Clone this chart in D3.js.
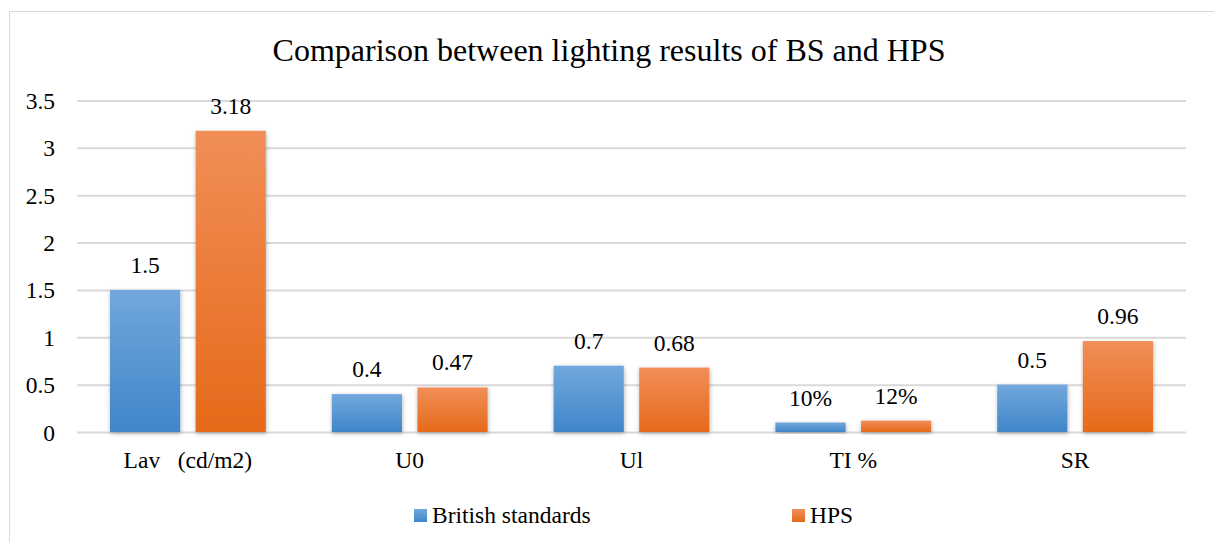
<!DOCTYPE html>
<html><head><meta charset="utf-8">
<script src="https://cdn.jsdelivr.net/npm/d3@7"></script>
<style>
body{margin:0;background:#fff}
svg{display:block;font-family:"Liberation Serif",serif}
svg text{font-family:"Liberation Serif",serif !important;fill:#000}
</style>
</head><body>
<svg id="c" width="1214" height="542"></svg>
<script>
const categories = ["Lav\u00a0\u00a0\u00a0(cd/m2)", "U0", "Ul", "TI %", "SR"];
const seriesNames = ["British standards", "HPS"];
const britishValues = [1.5, 0.4, 0.7, 0.1, 0.5];
const hpsValues = [3.18, 0.47, 0.68, 0.12, 0.96];
const britishLabels = ["1.5", "0.4", "0.7", "10%", "0.5"];
const hpsLabels = ["3.18", "0.47", "0.68", "12%", "0.96"];
const yTicks = [0, 0.5, 1, 1.5, 2, 2.5, 3, 3.5];

(function(){
const svg = d3.select("#c");
const font = "Liberation Serif";
const fs = 23.5;
const defs = svg.append("defs");
function grad(id, t, b){
  const g = defs.append("linearGradient").attr("id", id).attr("x1",0).attr("y1",0).attr("x2",0).attr("y2",1);
  g.append("stop").attr("offset","0%").attr("stop-color",t);
  g.append("stop").attr("offset","100%").attr("stop-color",b);
}
grad("gb", "#72a8dd", "#3f86c9");
grad("go", "#f18e58", "#e56a19");
const f = defs.append("filter").attr("id","sh").attr("x","-20%").attr("y","-20%").attr("width","140%").attr("height","140%");
f.append("feDropShadow").attr("dx",0.5).attr("dy",1.5).attr("stdDeviation",2.2).attr("flood-color","#000").attr("flood-opacity",0.3);

svg.append("rect").attr("x",9.5).attr("y",11.5).attr("width",1220).attr("height",540)
  .attr("fill","#fff").attr("stroke","#d9d9d9").attr("stroke-width",1);

const pl = 77, pr = 1186, pt = 100.5, pb = 432;
const y = d3.scaleLinear().domain([0, 3.5]).range([pb, pt]);
const x0 = d3.scaleBand().domain(categories).range([pl, pr]).paddingInner(0).paddingOuter(0);
const x1 = d3.scaleBand().domain(seriesNames).range([33, x0.bandwidth()-33]).paddingInner(0.18);

const yAxis = d3.axisLeft(y).tickValues(yTicks).tickSize(-(pr-pl)).tickPadding(22).tickFormat(d3.format("~g"));
const ga = svg.append("g").attr("transform",`translate(${pl},0)`).call(yAxis);
ga.attr("font-family", font).attr("font-size", fs);
ga.select(".domain").remove();
ga.selectAll(".tick line").attr("stroke","#d9d9d9").attr("stroke-width",2);
ga.selectAll(".tick text").attr("font-family",font).attr("font-size",fs).attr("fill","#000").attr("dy","0.34em");

svg.append("text").attr("x",609).attr("y",61).attr("text-anchor","middle")
  .attr("font-family",font).attr("font-size",32).attr("fill","#000")
  .text("Comparison between lighting results of BS and HPS");

const data = categories.map((c,i)=>({c, vals:[
  {s:seriesNames[0], v:britishValues[i], l:britishLabels[i], fill:"url(#gb)"},
  {s:seriesNames[1], v:hpsValues[i], l:hpsLabels[i], fill:"url(#go)"}]}));

const groups = svg.selectAll("g.cat").data(data).join("g").attr("class","cat")
  .attr("transform", d=>`translate(${x0(d.c)},0)`);
groups.selectAll("rect").data(d=>d.vals).join("rect")
  .attr("x", d=>x1(d.s)).attr("width", x1.bandwidth())
  .attr("y", d=>y(d.v)).attr("height", d=>pb - y(d.v))
  .attr("fill", d=>d.fill).attr("filter","url(#sh)");
groups.selectAll("text.lab").data(d=>d.vals).join("text").attr("class","lab")
  .attr("x", d=>x1(d.s)+x1.bandwidth()/2).attr("y", d=>y(d.v)-17)
  .attr("text-anchor","middle").attr("font-family",font).attr("font-size",fs).attr("fill","#000")
  .text(d=>d.l);

svg.selectAll("text.xl").data(categories).join("text").attr("class","xl")
  .attr("x", d=>x0(d)+x0.bandwidth()/2).attr("y", 468)
  .attr("text-anchor","middle").attr("font-family",font).attr("font-size",fs).attr("fill","#000")
  .text(d=>d);

const legX = [414, 792];
const lg = svg.selectAll("g.leg").data(seriesNames).join("g").attr("class","leg")
  .attr("transform",(d,i)=>`translate(${legX[i]},509)`);
lg.append("rect").attr("width",13).attr("height",13).attr("fill",(d,i)=>i?"url(#go)":"url(#gb)");
lg.append("text").attr("x",18).attr("y",13.5).attr("font-family",font).attr("font-size",fs).attr("fill","#000").text(d=>d);
})();
</script>
</body></html>
